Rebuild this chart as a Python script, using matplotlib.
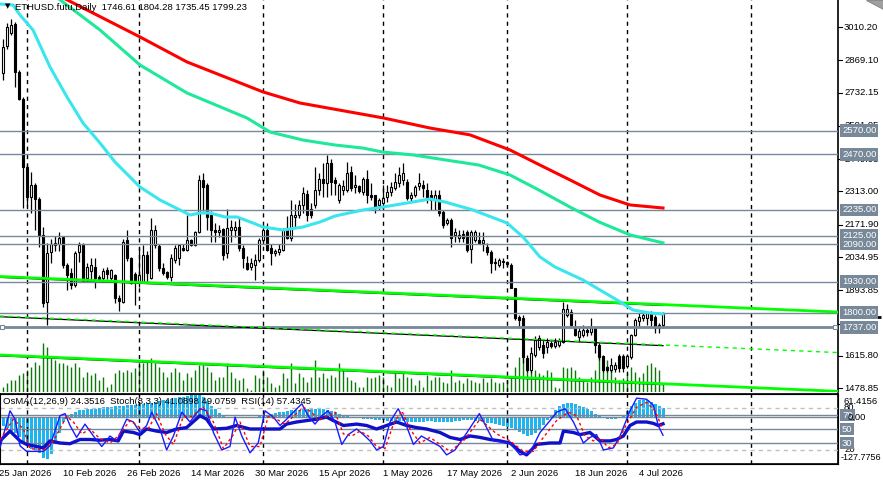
import matplotlib
matplotlib.use("Agg")
import matplotlib.pyplot as plt
import matplotlib.transforms as mtrans
from matplotlib.patches import Rectangle, Polygon
import numpy as np

plt.rcParams['font.family'] = ['Liberation Sans', 'DejaVu Sans']

### Data: daily bars, bar 0 = 26 Jan 2026
opens = [2816, 2929, 2985, 3023, 2821, 2704, 2418, 2288, 2340, 2280, 2128, 1846, 2055, 2085, 2090, 2122,
         2001, 1966, 1917, 2055, 2086, 1945, 1975, 1995, 1950, 1945, 1980, 1945, 1959, 1860, 1846, 2108,
         2030, 1962, 1930, 1930, 2043, 1946, 2086, 2081, 1988, 1973, 1952, 2022, 2030, 2075, 2065, 2108,
         2086, 2143, 2362, 2340, 2213, 2150, 2140, 2154, 2051, 2150, 2150, 2164, 2072, 2011, 1994, 2001,
         2022, 2108, 2150, 2072, 2051, 2055, 2065, 2150, 2115, 2205, 2213, 2256, 2303, 2240, 2256, 2320,
         2365, 2347, 2432, 2362, 2277, 2320, 2320, 2397, 2330, 2335, 2312, 2365, 2298, 2298, 2256, 2263,
         2291, 2312, 2327, 2347, 2362, 2354, 2284, 2298, 2335, 2340, 2320, 2298, 2277, 2298, 2228, 2179,
         2192, 2128, 2115, 2133, 2143, 2068, 2108, 2108, 2094, 2079, 2058, 2016, 2001, 2015, 2015, 2001,
         1903, 1783, 1776, 1606, 1557, 1621, 1656, 1663, 1656, 1669, 1658, 1663, 1677, 1790, 1804, 1740,
         1698, 1705, 1725, 1718, 1733, 1663, 1616, 1571, 1557, 1560, 1616, 1616, 1572, 1613, 1705, 1762,
         1776, 1776, 1797, 1783, 1733, 1746.61]
highs = [2958, 3026, 3043, 3030, 2830, 2715, 2430, 2397, 2350, 2290, 2164, 2093, 2110, 2125, 2140, 2125,
         2010, 1990, 2060, 2100, 2095, 2010, 2030, 2030, 1960, 1990, 1995, 1985, 1965, 1875, 2110, 2150,
         2035, 1970, 2079, 2085, 2060, 2201, 2170, 2090, 2010, 1975, 2050, 2085, 2090, 2090, 2213, 2110,
         2145, 2384, 2390, 2350, 2230, 2180, 2170, 2160, 2240, 2192, 2190, 2200, 2085, 2040, 2030, 2050,
         2115, 2170, 2180, 2090, 2070, 2090, 2160, 2210, 2277, 2260, 2277, 2334, 2320, 2265, 2418, 2390,
         2432, 2468, 2450, 2375, 2350, 2360, 2439, 2420, 2385, 2340, 2375, 2404, 2350, 2298, 2284, 2340,
         2340, 2355, 2390, 2418, 2432, 2365, 2310, 2340, 2390, 2360, 2350, 2320, 2320, 2320, 2235, 2200,
         2200, 2160, 2150, 2150, 2150, 2150, 2150, 2143, 2143, 2094, 2065, 2030, 2030, 2030, 2020, 2009,
         1905, 1790, 1790, 1620, 1656, 1700, 1705, 1684, 1691, 1680, 1690, 1690, 1846, 1835, 1815, 1770,
         1740, 1747, 1740, 1776, 1740, 1670, 1620, 1575, 1606, 1590, 1625, 1625, 1625, 1710, 1775, 1800,
         1800, 1804, 1805, 1790, 1755, 1804.28]
lows = [2786, 2915, 2975, 2757, 2700, 2243, 2252, 2222, 2150, 2079, 1825, 1747, 2010, 2060, 2060, 1990,
        1896, 1900, 1910, 2015, 1930, 1930, 1940, 1905, 1930, 1935, 1940, 1935, 1839, 1805, 1840, 2020,
        1920, 1832, 1910, 1925, 1925, 1940, 2075, 1975, 1960, 1940, 1935, 2010, 2000, 2060, 2060, 2080,
        2080, 2135, 2230, 2150, 2100, 2100, 2120, 2022, 2030, 2100, 2120, 2060, 1987, 1980, 1980, 1938,
        2015, 2090, 2060, 2000, 2040, 2045, 2060, 2110, 2105, 2160, 2200, 2220, 2190, 2200, 2245, 2300,
        2291, 2290, 2300, 2300, 2265, 2300, 2310, 2315, 2305, 2305, 2300, 2263, 2275, 2221, 2235, 2235,
        2270, 2295, 2320, 2330, 2340, 2275, 2270, 2290, 2320, 2290, 2263, 2235, 2235, 2210, 2157, 2170,
        2079, 2100, 2100, 2098, 2058, 2009, 2100, 2090, 2060, 2045, 1966, 1980, 1995, 1990, 1995, 1903,
        1770, 1735, 1585, 1550, 1542, 1610, 1640, 1606, 1628, 1650, 1650, 1655, 1670, 1780, 1740, 1700,
        1680, 1698, 1700, 1705, 1627, 1600, 1550, 1550, 1550, 1550, 1550, 1550, 1565, 1605, 1700, 1740,
        1765, 1747, 1745, 1715, 1715, 1735.45]
closes = [2927, 3011, 3019, 2821, 2704, 2418, 2291, 2340, 2280, 2128, 1839, 2051, 2090, 2095, 2115, 2001,
          1959, 1917, 2051, 2085, 1938, 1994, 2000, 1945, 1940, 1975, 1965, 1980, 1860, 1850, 2100, 2030,
          1924, 1932, 1958, 2043, 1966, 2150, 2150, 1988, 1966, 1952, 2030, 2073, 2086, 2065, 2108, 2086,
          2143, 2362, 2333, 2206, 2150, 2140, 2148, 2043, 2158, 2164, 2164, 2072, 2030, 1983, 2010, 2022,
          2108, 2150, 2065, 2051, 2060, 2070, 2150, 2115, 2213, 2215, 2256, 2307, 2213, 2213, 2320, 2365,
          2350, 2432, 2354, 2350, 2340, 2335, 2390, 2327, 2340, 2315, 2365, 2298, 2290, 2249, 2277, 2284,
          2312, 2333, 2354, 2383, 2390, 2284, 2298, 2333, 2350, 2326, 2290, 2277, 2298, 2221, 2171, 2192,
          2115, 2143, 2128, 2115, 2065, 2143, 2143, 2094, 2108, 2058, 2009, 2009, 2022, 2020, 2005, 1905,
          1776, 1769, 1613, 1557, 1628, 1684, 1691, 1628, 1677, 1658, 1677, 1684, 1814, 1814, 1747, 1705,
          1720, 1726, 1718, 1733, 1663, 1613, 1557, 1557, 1578, 1578, 1564, 1564, 1616, 1705, 1769, 1783,
          1790, 1797, 1770, 1733, 1747, 1799.23]
# tick volume, in pixel-height units of the main window
volume = [5, 9, 12, 12, 17, 19, 22, 25, 30, 27, 49, 45, 34, 32, 29, 29, 27, 25, 29, 25, 15, 20, 17, 19, 12, 15, 5, 8,
          19, 22, 20, 22, 20, 24, 27, 29, 30, 34, 29, 25, 20, 15, 20, 24, 20, 12, 19, 15, 22, 27, 27, 25, 20, 12, 15,
          15, 29, 20, 14, 12, 14, 4, 2, 17, 14, 22, 15, 9, 5, 7, 19, 14, 29, 9, 19, 15, 10, 15, 32, 15, 19, 14, 17,
          15, 29, 22, 15, 12, 10, 5, 5, 15, 14, 15, 17, 15, 7, 5, 19, 14, 19, 15, 14, 7, 12, 5, 17, 12, 15, 15, 10,
          9, 22, 10, 12, 9, 14, 12, 10, 9, 14, 10, 14, 10, 9, 10, 12, 15, 25, 35, 45, 32, 27, 22, 19, 17, 22, 20,
          5, 4, 25, 24, 25, 22, 15, 12, 10, 15, 22, 40, 34, 32, 22, 15, 12, 14, 19, 25, 20, 15, 19, 27, 29, 25, 22, 9]

# moving averages (bar index, price)
ma_fast_bar = [-0.75, 2.5, 4.25, 7.5, 11.75, 16, 20, 24.25, 28, 31.75, 34.25, 39.25, 44.25, 46.75, 49.25, 51.75,
               55.5, 58.5, 62.5, 65, 70, 75, 79.25, 83, 90, 95, 102.5, 106.75, 110.5, 117.5, 126, 130, 134.25,
               138, 145, 153.5, 157.5, 161.75, 165]
ma_fast = [3107.7, 3103.4, 3061.1, 2997.5, 2840.7, 2713.5, 2603.3, 2518.5, 2438, 2374.4, 2332, 2277, 2234.6,
           2213.4, 2221.8, 2221.8, 2204.9, 2204.9, 2179.5, 2162.5, 2149.8, 2162.5, 2183.7, 2209.1, 2234.6, 2247.3,
           2268.5, 2281.2, 2268.5, 2234.6, 2179.5, 2120.2, 2035.4, 1993, 1937.9, 1853.1, 1810.7, 1798, 1793.8]
ma_mid_bar = [10, 24.25, 34.25, 46, 61, 66.75, 75, 83, 90, 95, 102.5, 110.5, 119, 126.75, 134, 141.75, 149,
              156.75, 165]
ma_mid = [3180, 2997.5, 2849.1, 2730.5, 2624.5, 2565, 2531, 2510, 2497, 2480, 2468, 2447, 2425, 2383, 2319,
          2247, 2184, 2129, 2095]
ma_slow_bar = [12, 34.25, 46, 65, 74.25, 95, 106.75, 116.75, 126.75, 134.25, 141.75, 149.25, 156.75, 165]
ma_slow = [3160, 2968, 2862, 2735, 2688, 2625, 2582, 2553, 2489, 2425, 2362, 2298, 2256, 2243]

# oscillators
osma = [-25, -30, -38, -45, -55, -68, -80, -88, -92, -98, -112, -115, -100, -75, -45, -15,
        2, 8, 14, 17, 19, 20, 21, 22, 24, 25, 26, 27, 28, 29, 30, 31, 32, 33, 34, 35, 36, 38, 40, 42, 44,
        46, 48, 50, 52, 54, 56, 58, 60, 58, 52, 42, 30, 20, 10, 4, 0, -2, -3, -2, 0,
        -1, -2, 0, 2, 3, 5, 8, 10, 12, 14, 16, 17, 18, 19, 20, 21, 22, 22, 21, 20,
        18, 15, 12, 8, 4, 2, 0, -2, -4, -5, -6, -7, -8, -9, -10, -11, -12, -13, -12, -12,
        -13, -14, -15, -14, -13, -12, -12, -13, -14, -15, -14, -13, -12, -11, -10, -10, -10, -11, -12, -14,
        -16, -18, -20, -22, -24, -27, -30, -35, -42, -48, -52, -50, -45, -35, -22, -10, 5, 18, 28, 35,
        38, 37, 34, 30, 25, 20, 15, 8, 2, -3, -6, -6, -5, -3, 5, 15, 28, 38, 44, 46, 45, 40, 34, 28, 24.35]
stoch_bar = [-0.75, 1.75, 3, 4.25, 5.9, 7.6, 10.1, 11.75, 14.25, 15.5, 16.75, 18.4, 20.5, 22.6, 24.7, 26.75, 28.4,
             30.9, 32.6, 34.25, 35.9, 37.2, 39.25, 40.9, 42.6, 44.7, 46.75, 49.25, 50.9, 52.6, 54.7, 56.75, 58,
             59.7, 61.75, 63.8, 65.5, 67.6, 69.25, 70.9, 72.6, 74.7, 76.3, 78, 79.7, 81.3, 83, 84.7, 86.3, 88.4,
             90.1, 91.75, 93.4, 95.1, 96.75, 98.8, 100.5, 102.6, 104.6, 106.75, 109.25, 110.9, 113, 116, 119.1,
             122.6, 126.75, 129.25, 131.75, 134.25, 136.75, 138.4, 140.5, 142.6, 145.1, 146.75, 148.4, 150.1,
             152.6, 154.25, 156.75, 158.4, 160.9, 162.6, 163.8, 165]
stoch_main = [23, 76, 64, 26, 18, 18, 18, 26, 69, 72, 55, 38, 57, 40, 25, 40, 33, 64, 60, 45, 55, 74, 50, 20, 40,
              74, 60, 79, 76, 45, 20, 25, 67, 40, 16, 30, 76, 67, 55, 64, 74, 86, 69, 57, 69, 76, 60, 28, 42, 50,
              42, 33, 20, 25, 60, 79, 60, 28, 40, 33, 25, 13, 20, 45, 72, 33, 30, 13, 16, 45, 62, 74, 79, 60, 30,
              38, 42, 20, 23, 40, 76, 94, 92.5, 84, 55, 41.09]
signal_bar = [-0.75, 2.6, 5.1, 6.75, 10.1, 12.6, 15.9, 17.6, 19.7, 21.75, 24.25, 26.75, 28.8, 31.75, 34.25, 36.3,
              38.4, 40.5, 42.6, 45.1, 47.2, 50.1, 52.6, 55.1, 57.6, 59.25, 61.75, 64.25, 66.3, 68.4, 70.5, 72.6,
              75.1, 77.2, 78.8, 80.9, 83, 85.1, 87.2, 89.25, 91.3, 93.4, 95.5, 97.6, 99.7, 101.75, 104.25, 106.75,
              109.25, 111.75, 115.1, 119.25, 123.4, 126.75, 130.1, 132.6, 135.1, 138.4, 141.3, 143.4, 145.5,
              147.6, 149.25, 151.3, 153.4, 155.9, 158.4, 160.9, 163, 165]
stoch_signal = [35, 64, 50, 22, 20, 33, 68, 60, 43, 50, 36, 30, 40, 62, 52, 50, 72, 43, 28, 68, 68, 81, 60, 22, 42,
                60, 25, 25, 68, 64, 57, 68, 81, 74, 62, 68, 74, 43, 40, 47, 40, 25, 22, 57, 76, 50, 30, 38, 28,
                18, 33, 64, 43, 33, 18, 18, 38, 62, 74, 69, 40, 33, 38, 23, 28, 57, 81, 88, 76, 49.08]
rsi_bar = [-0.75, 1.75, 4.25, 5.9, 8.4, 10.1, 11.75, 14.25, 16.75, 19.25, 21.75, 24.25, 26.75, 28.8, 30.1, 32.6,
           34.25, 35.9, 38.4, 40.9, 43.4, 45.9, 49.25, 50.9, 52.6, 55.9, 58.4, 61.75, 65.1, 69.25, 70.9, 73.4,
           75.9, 78.4, 80.9, 82.6, 85.1, 88.4, 90.9, 93.4, 95.9, 98.4, 100.9, 103.4, 105.9, 109.25, 111.75,
           114.25, 116.75, 119.25, 121.75, 124.25, 126.75, 129.25, 130.9, 131.75, 133.4, 136.75, 139.25, 140.1,
           142.6, 144.25, 146.75, 149.25, 151.75, 153.4, 155.1, 156.75, 158.4, 160.9, 162.6, 163.8, 165]
rsi = [33, 47, 33, 28, 25, 23, 33, 30, 29, 35, 35, 34, 35, 33, 47, 45, 42, 50, 47, 45, 50, 52, 69, 64, 50, 51, 55,
       50, 50, 50, 57, 60, 62, 64, 67, 62, 55, 57, 55, 50, 55, 60, 55, 52, 50, 45, 38, 35, 40, 38, 35, 33, 30,
       18, 13, 18, 28, 30, 30, 47, 45, 42, 45, 33, 33, 35, 40, 55, 60, 60, 58, 55, 57.43]

levels = [2570, 2470, 2235, 2125, 2090, 1930, 1800, 1737]
price_ticks = [3010.20, 2869.10, 2732.15, 2591.05, 2449.95, 2313.00, 2171.90, 2034.95, 1893.85, 1752.75,
               1615.80, 1478.85]
hidden_ticks = [1752.75]  # label covered by the bid / 1737 boxes
separators = [6, 34, 65, 95, 126, 156, 187]
date_bars = [-1, 15, 31, 47, 63, 79, 95, 111, 127, 143, 159]
date_labels = ['25 Jan 2026', '10 Feb 2026', '26 Feb 2026', '14 Mar 2026', '30 Mar 2026', '15 Apr 2026',
               '1 May 2026', '17 May 2026', '2 Jun 2026', '18 Jun 2026', '4 Jul 2026']
# trend lines: ((bar, price), (bar, price))
upper_line = ((-0.75, 1952.7), (208.75, 1802.2))
lower_line = ((-0.75, 1620.0), (208.75, 1466.0))
mid_line = ((-0.75, 1785.3), (208.75, 1630.2))

### Figure
W, H = 883, 484
RIGHT = 838
FS = 6.8
fig = plt.figure(figsize=(W / 100, H / 100), dpi=100)
fig.patch.set_facecolor('white')

ax = fig.add_axes([0, 1 - 392 / H, RIGHT / W, 392 / H])
ax_ind = fig.add_axes([0, 1 - 464 / H, RIGHT / W, 70 / H])

X0, X1 = -0.75, 208.75
ax.set_xlim(X0, X1)
ax.set_ylim(1463.15, 3124.64)
for a in (ax, ax_ind):
    a.set_xticks([])
    a.set_yticks([])
for s in ('left', 'top', 'bottom'):
    ax.spines[s].set_visible(False)
ax.spines['right'].set_linewidth(1.2)

idx = np.arange(len(closes))

# volumes at the bottom of the main window
vtrans = mtrans.blended_transform_factory(ax.transData, ax.transAxes)
ax.vlines(idx, 0, np.array(volume) / 392.0, transform=vtrans, color='#0b7a0b', lw=1, zorder=1)

# candles
for i in idx:
    o, h, l, c = opens[i], highs[i], lows[i], closes[i]
    ax.vlines(i, l, h, color='black', lw=0.9, zorder=3)
    bot, top = min(o, c), max(o, c)
    ax.add_patch(Rectangle((i - 0.35, bot), 0.7, max(top - bot, 2.0), fc='white' if c >= o else 'black',
                           ec='black', lw=0.8, zorder=3.5))

# horizontal levels
for lv in levels:
    ax.axhline(lv, color='#778899', lw=2 if lv == 1737 else 1, zorder=4)
ax.plot([-0.25, 208.1], [1737, 1737], ls='none', marker='s', ms=3.5, mfc='white', mec='#778899', mew=0.8,
        zorder=4.5, clip_on=False)

# trend lines
for (b0, p0), (b1, p1) in (upper_line, lower_line):
    ax.plot([b0, 165], [p0 - 4, p0 - 4 + (p1 - p0) * (165 - b0) / (b1 - b0)], color='black', lw=0.8, zorder=4)
    ax.plot([b0, b1], [p0, p1], color='#00ff00', lw=2, zorder=4.2)
(b0, p0), (b1, p1) = mid_line
ax.plot([b0, 165], [p0 - 3, p0 - 3 + (p1 - p0) * (165 - b0) / (b1 - b0)], color='black', lw=0.9, zorder=4)
ax.plot([b0, b1], [p0, p1], color='#00ff00', lw=1, ls=(0, (3, 3)), zorder=4.2)

# moving averages
ax.plot(ma_slow_bar, ma_slow, color='#ff0000', lw=2.2, zorder=5)
ax.plot(ma_mid_bar, ma_mid, color='#1ee89a', lw=2.2, zorder=5)
ax.plot(ma_fast_bar, ma_fast, color='#3ae6ee', lw=2.2, zorder=5)

# period separators
for b in separators:
    ax.axvline(b, color='black', lw=1, ls=(0, (3, 3)), zorder=2)
    ax_ind.axvline(b, color='black', lw=1, ls=(0, (3, 3)), zorder=2)

# right price scale
tr = mtrans.blended_transform_factory(ax.transAxes, ax.transData)
def xr(px):
    return px / RIGHT
for p in price_ticks:
    ax.plot([1, xr(842)], [p, p], transform=tr, color='black', lw=0.8, clip_on=False, zorder=6)
    if p not in hidden_ticks:
        ax.text(xr(844), p, '%.2f' % p, transform=tr, fontsize=FS, va='center', ha='left', clip_on=False, zorder=6)
# bid marker peeking out under the 1800 label
ax.plot([xr(840), xr(881)], [1780, 1780], transform=tr, color='black', lw=2, clip_on=False, zorder=7,
        solid_capstyle='butt')
for lv in levels:
    ax.text(xr(842), lv, '%.2f' % lv, transform=tr, fontsize=FS, color='white', va='center', ha='left',
            clip_on=False, zorder=8, bbox=dict(boxstyle='square,pad=0.2', fc='#778899', ec='none'))

# title and corner marks
fig.text(5 / W, 1 - 6 / H, '\u25bc', fontsize=5, va='center', ha='left', family='DejaVu Sans')
fig.text(15 / W, 1 - 7 / H, 'ETHUSD.futu,Daily  %.2f %.2f %.2f %.2f' % (opens[-1], highs[-1], lows[-1], closes[-1]),
         fontsize=FS, va='center', ha='left')
fig.patches.append(Polygon([[866 / W, 1.0], [883 / W, 1.0], [883 / W, 1 - 9 / H]], closed=True,
                           transform=fig.transFigure, fc='#a0a0a0', ec='#808080', lw=0.6))

### Indicator window
ax_ind.set_xlim(X0, X1)
ax_ind.set_ylim(-127.7756, 61.4156)
ax_ind.bar(idx, osma, width=0.75, color='#1eb4f0', zorder=1)
ax_ind.axhline(0, color='#778899', lw=1, zorder=1.5)
for s in ax_ind.spines.values():
    s.set_linewidth(1.2)

ax_s = ax_ind.twinx()
ax_s.set_ylim(0, 100)
ax_s.set_xlim(X0, X1)
ax_s.set_yticks([])
for lv in (80, 20):
    ax_s.axhline(lv, color='#c0c0c0', lw=1, ls=(0, (3, 3)), zorder=1)
for lv in (70, 50, 30):
    ax_s.axhline(lv, color='#778899', lw=1, zorder=1)
ax_s.plot(rsi_bar, rsi, color='#1010c8', lw=2.4, zorder=3)
ax_s.plot(stoch_bar, stoch_main, color='#1a1aff', lw=1, zorder=4)
ax_s.plot(signal_bar, stoch_signal, color='#ff0000', lw=1, ls=(0, (2, 2)), zorder=4)

fig.text(3 / W, 1 - 402 / H, 'OsMA(12,26,9) 24.3516  Stoch(8,3,3) 41.0898 49.0759  RSI(14) 57.4345',
         fontsize=FS, va='center', ha='left')

trs = mtrans.blended_transform_factory(ax_s.transAxes, ax_s.transData)
for lv in (80, 20):
    ax_s.text(xr(844), lv, str(lv), transform=trs, fontsize=FS, va='center', ha='left', clip_on=False, zorder=5)
fig.text(844 / W, 1 - 401.5 / H, '61.4156', fontsize=FS, va='center', ha='left')
fig.text(841 / W, 1 - 457 / H, '-127.7756', fontsize=6.5, va='center', ha='left')
fig.text(848 / W, 1 - 418 / H, '0.00', fontsize=FS, va='center', ha='left')
for lv in (70, 50, 30):
    ax_s.text(xr(842), lv, str(lv), transform=trs, fontsize=FS, color='white', va='center', ha='left',
              clip_on=False, zorder=8, bbox=dict(boxstyle='square,pad=0.2', fc='#778899', ec='none'))

# date axis
for b, lab in zip(date_bars, date_labels):
    fig.text((3 + 4 * b) / W, 1 - 474 / H, lab, fontsize=FS, va='center', ha='left')

fig.savefig('out.png', dpi=100, facecolor='white')
